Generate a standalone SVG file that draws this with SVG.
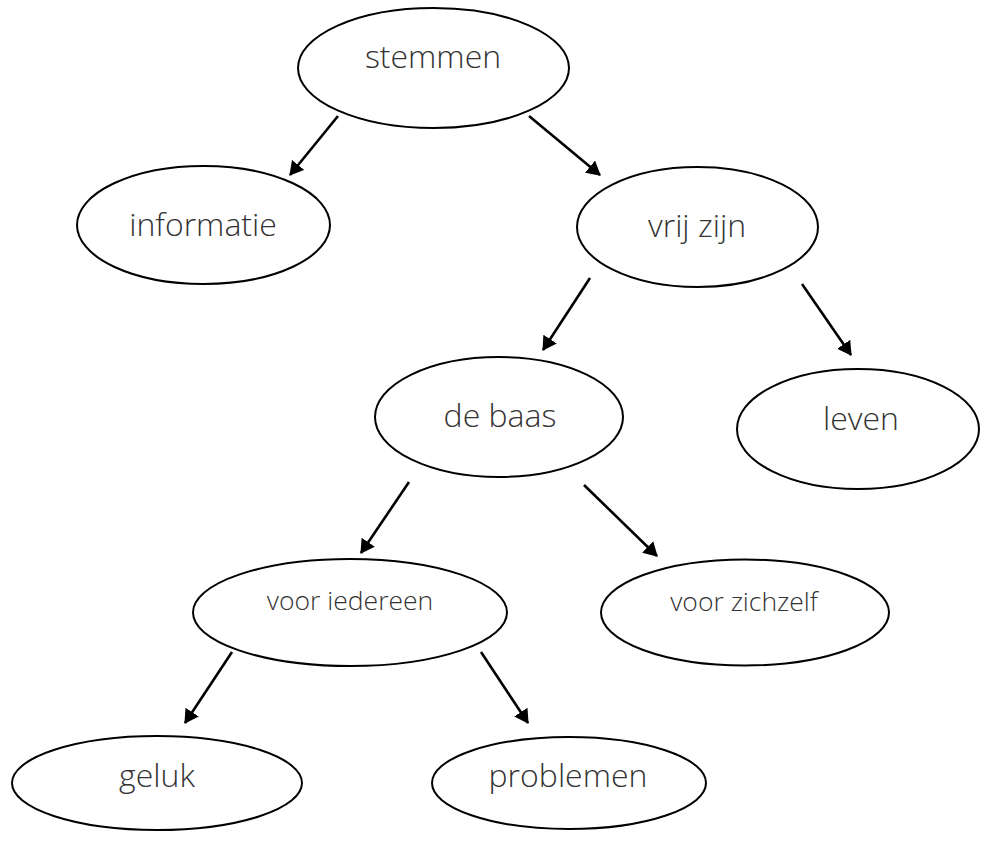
<svg xmlns="http://www.w3.org/2000/svg" width="987" height="843" viewBox="0 0 987 843">
<defs>
<marker id="ah" viewBox="0 0 14 16" refX="13" refY="8" markerWidth="14" markerHeight="16" markerUnits="userSpaceOnUse" orient="auto">
<path d="M0,0 L14,8 L0,16 z" fill="#000"/>
</marker>
<style>
.n ellipse{fill:#fff;stroke:#000;stroke-width:2}
.n text{font-family:"Open Sans","Liberation Sans",sans-serif;font-weight:300;fill:#333;text-anchor:middle}
.big{font-size:32px}
.small{font-size:26.5px}
#edges line{stroke:#000;stroke-width:2.6;marker-end:url(#ah)}
</style>
</defs>
<rect width="987" height="843" fill="#fff"/>
<g id="edges">
<line x1="338" y1="116" x2="290" y2="175"/>
<line x1="529" y1="116" x2="600" y2="175"/>
<line x1="590" y1="278" x2="543" y2="350"/>
<line x1="802" y1="284" x2="851" y2="355"/>
<line x1="409" y1="482" x2="361" y2="553"/>
<line x1="584" y1="485" x2="657" y2="556"/>
<line x1="232" y1="652" x2="185" y2="723"/>
<line x1="481" y1="652" x2="528" y2="723"/>
</g>
<g id="stemmen" class="n"><ellipse cx="433.5" cy="68" rx="135.5" ry="60"/><text class="big" x="433" y="68">stemmen</text></g>
<g id="informatie" class="n"><ellipse cx="203.5" cy="225" rx="126.5" ry="59"/><text class="big" x="203" y="236">informatie</text></g>
<g id="vrijzijn" class="n"><ellipse cx="697.5" cy="227" rx="120.5" ry="60"/><text class="big" x="697" y="237">vrij zijn</text></g>
<g id="debaas" class="n"><ellipse cx="499" cy="417" rx="124" ry="60"/><text class="big" x="500" y="427">de baas</text></g>
<g id="leven" class="n"><ellipse cx="858" cy="429" rx="121" ry="60"/><text class="big" x="861" y="430">leven</text></g>
<g id="vooriedereen" class="n"><ellipse cx="350" cy="612.5" rx="157" ry="53.5"/><text class="small" x="350" y="610">voor iedereen</text></g>
<g id="voorzichzelf" class="n"><ellipse cx="745" cy="612.5" rx="144" ry="53"/><text class="small" x="744" y="611">voor zichzelf</text></g>
<g id="geluk" class="n"><ellipse cx="157" cy="783" rx="145" ry="47"/><text class="big" x="157" y="787">geluk</text></g>
<g id="problemen" class="n"><ellipse cx="569" cy="783" rx="137" ry="46"/><text class="big" x="568" y="787">problemen</text></g>
</svg>
